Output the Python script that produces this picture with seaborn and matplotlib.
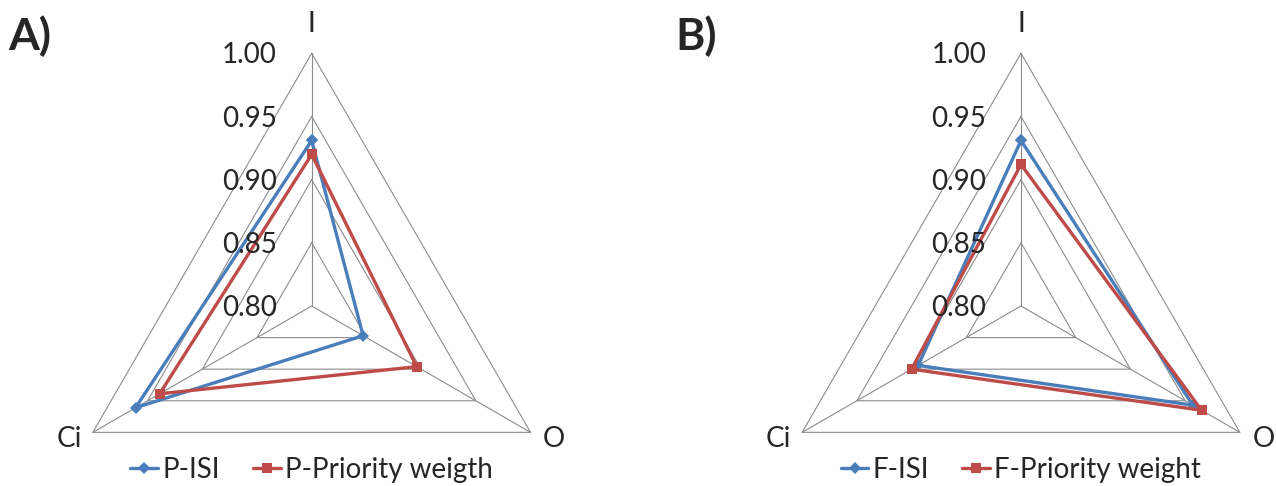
import numpy as np
import pandas as pd
import seaborn as sns
import matplotlib.pyplot as plt
from matplotlib.lines import Line2D

# radar axes, clockwise from the top
categories = ['I', 'O', 'Ci']
ring_values = [0.80, 0.85, 0.90, 0.95, 1.00]
ring_labels = ['0.80', '0.85', '0.90', '0.95', '1.00']

# values
p_isi = [0.931, 0.847, 0.961]
p_priority = [0.920, 0.896, 0.939]
f_isi = [0.931, 0.957, 0.894]
f_priority = [0.912, 0.965, 0.900]

panels = [
    ('A)', 'P-ISI', p_isi, 'P-Priority weigth', p_priority),
    ('B)', 'F-ISI', f_isi, 'F-Priority weight', f_priority),
]

blue = '#4A7EBB'
red = '#BE4B48'
grid_col = '#8C8C8C'
fs = 20

sns.set_style('white')
plt.rcParams['font.family'] = ['Lato', 'DejaVu Sans']

W, H = 1276, 486
fig = plt.figure(figsize=(W / 100, H / 100), dpi=100)

angles = np.linspace(0, 2 * np.pi, len(categories), endpoint=False)
closed = np.append(angles, 2 * np.pi)

centers = [(311.7, 306), (1021, 306)]
tag_x = [8, 675]
R = 252.7

for (tag, name1, vals1, name2, vals2), (cx, cy), tx in zip(panels, centers, tag_x):
    ax = fig.add_axes([(cx - R) / W, (H - cy - R) / H, 2 * R / W, 2 * R / H],
                      projection='polar')
    ax.set_theta_offset(np.pi / 2)
    ax.set_theta_direction(-1)
    ax.set_ylim(0.80, 1.00)
    ax.grid(False)
    ax.set_xticks([])
    ax.set_yticks([])
    ax.spines['polar'].set_visible(False)
    ax.patch.set_alpha(0)

    # triangular grid
    for r in ring_values[1:]:
        ax.plot(closed, [r] * len(closed), color=grid_col, lw=0.8, zorder=1, clip_on=False)
    for a in angles:
        ax.plot([a, a], [0.80, 1.00], color=grid_col, lw=0.8, zorder=1, clip_on=False)

    # series
    for name, vals, color, mk, ms in [(name1, vals1, blue, 'D', 6.5), (name2, vals2, red, 's', 7.5)]:
        df = pd.DataFrame({'theta': closed, 'value': vals + vals[:1]})
        sns.lineplot(data=df, x='theta', y='value', sort=False, estimator=None,
                     color=color, lw=2.4, marker=mk, markersize=ms,
                     markeredgewidth=0, ax=ax, zorder=3, clip_on=False)
    ax.set_xlabel('')
    ax.set_ylabel('')

    # radial value labels
    for v, lab in zip(ring_values, ring_labels):
        ax.annotate(lab, xy=(0, v), xytext=(-25, -1.5), textcoords='offset points',
                    ha='right', va='center', fontsize=fs, annotation_clip=False)

    # category labels
    ax.annotate(categories[0], xy=(angles[0], 1.0), xytext=(0, 21), textcoords='offset points',
                ha='center', va='center', fontsize=fs, annotation_clip=False)
    ax.annotate(categories[1], xy=(angles[1], 1.0), xytext=(9, -5), textcoords='offset points',
                ha='left', va='center', fontsize=fs, annotation_clip=False)
    ax.annotate(categories[2], xy=(angles[2], 1.0), xytext=(-8, -5), textcoords='offset points',
                ha='right', va='center', fontsize=fs, annotation_clip=False)

    handles = [Line2D([], [], color=blue, marker='D', lw=2.4, ms=6.5, mew=0),
               Line2D([], [], color=red, marker='s', lw=2.4, ms=7.5, mew=0)]
    fig.legend(handles, [name1, name2], loc='center', bbox_to_anchor=(cx / W, 1 - 470 / H),
               ncol=2, frameon=False, fontsize=fs, handlelength=1.0, handletextpad=0.15,
               columnspacing=1.2, borderpad=0, borderaxespad=0)

    fig.text(tx / W, 1 - 50 / H, tag, fontsize=32, fontweight='bold', ha='left', va='baseline')

plt.savefig('out.png', dpi=100)
